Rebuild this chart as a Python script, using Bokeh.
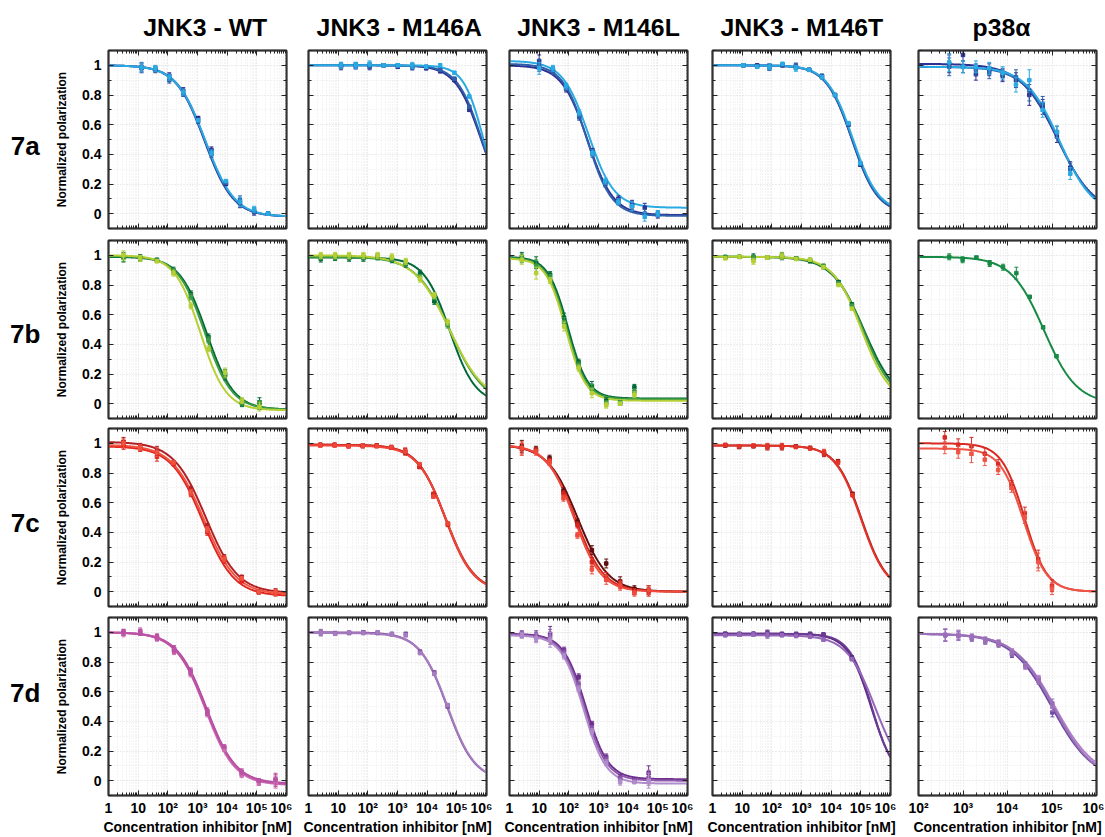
import math
import numpy as np
from bokeh.plotting import figure
from bokeh.layouts import column, row
from bokeh.models import Range1d, FixedTicker, LinearAxis, LogAxis, Label
from bokeh.embed import file_html
from bokeh.resources import INLINE

# ---------------- data ----------------
COLUMNS = ["JNK3 - WT", "JNK3 - M146A", "JNK3 - M146L", "JNK3 - M146T", "p38\u03b1"]
ROWS = ["7a", "7b", "7c", "7d"]
X_TICKS_JNK = [1.0, 10.0, 100.0, 1e3, 1e4, 1e5, 1e6]
X_LABELS_JNK = ["1", "10", "10\u00b2", "10\u00b3", "10\u2074", "10\u2075", "10\u2076"]
X_TICKS_P38 = [1e2, 1e3, 1e4, 1e5, 1e6]
X_LABELS_P38 = ["10\u00b2", "10\u00b3", "10\u2074", "10\u2075", "10\u2076"]
Y_TICKS = [0.0, 0.2, 0.4, 0.6, 0.8, 1.0]
Y_LABELS = ["0", "0.2", "0.4", "0.6", "0.8", "1"]

# concentrations [nM] per column, point values per series, error per point,
# fit parameters per series: (top, bottom, log10 IC50, Hill slope)
A_CONC = [
    [13, 38, 112, 330, 1050, 2950, 9100, 27000, 81000, 240000],
    [12.5, 39, 115, 340, 1020, 3150, 9300, 27500, 83000, 263000],
    [10, 29, 81, 224, 631, 1700, 4680, 13500, 36300, 100000],
    [11, 32, 83, 229, 646, 1820, 4900, 13500, 38000, 95500],
    [490, 1000, 1950, 3890, 7760, 15500, 30900, 61700, 129000, 257000],
]
A_Y = [
    [[0.98, 0.975, 0.93, 0.83, 0.645, 0.43, 0.2, 0.07, 0.01, 0.0],
     [0.99, 0.97, 0.9, 0.81, 0.62, 0.4, 0.21, 0.09, 0.02, 0.0],
     [0.985, 0.98, 0.92, 0.82, 0.63, 0.41, 0.22, 0.08, 0.03, 0.0]],
    [[0.99, 0.995, 0.99, 1.0, 0.99, 0.99, 0.98, 0.96, 0.9, 0.7],
     [1.0, 1.0, 1.0, 1.0, 1.0, 0.99, 0.99, 0.97, 0.91, 0.72],
     [1.0, 1.0, 1.01, 1.0, 1.0, 1.0, 0.99, 1.0, 0.95, 0.79]],
    [[1.03, 0.97, 0.84, 0.66, 0.42, 0.21, 0.1, 0.06, 0.04, -0.01],
     [1.0, 0.96, 0.85, 0.65, 0.4, 0.2, 0.08, 0.05, 0.0, 0.0],
     [0.98, 0.98, 0.86, 0.68, 0.41, 0.22, 0.08, 0.05, -0.02, 0.0]],
    [[1.0, 1.0, 0.99, 1.0, 0.995, 0.97, 0.92, 0.8, 0.6, 0.33],
     [1.0, 0.995, 0.985, 1.0, 0.99, 0.97, 0.93, 0.8, 0.6, 0.34],
     [1.0, 0.99, 0.99, 1.01, 0.98, 0.97, 0.92, 0.8, 0.61, 0.34]],
    [[1.01, 1.07, 0.94, 0.97, 0.93, 0.9, 0.8, 0.72, 0.52, 0.31],
     [0.99, 0.99, 0.97, 0.95, 0.94, 0.92, 0.83, 0.74, 0.55, 0.3],
     [1.02, 0.99, 0.99, 0.98, 0.95, 0.87, 0.9, 0.7, 0.55, 0.27]],
]
A_ERR = [
    [0.03, 0.02, 0.02, 0.02, 0.01, 0.02, 0.01, 0.03, 0.02, 0.01],
    [0.02, 0.02, 0.02, 0.01, 0.01, 0.02, 0.01, 0.01, 0.01, 0.01],
    [0.04, 0.02, 0.02, 0.02, 0.02, 0.02, 0.02, 0.03, 0.03, 0.02],
    [0.01, 0.01, 0.02, 0.01, 0.02, 0.01, 0.01, 0.01, 0.01, 0.01],
    [0.06, 0.04, 0.04, 0.04, 0.04, 0.05, 0.07, 0.05, 0.04, 0.04],
]
A_FIT = [
    [(1.0, -0.02, 3.24, 0.9), (1.0, -0.02, 3.26, 0.9), (1.0, -0.02, 3.27, 0.88)],
    [(1.0, 0.0, 5.82, 1.0), (1.0, 0.0, 5.84, 1.05), (1.0, 0.0, 5.9, 1.3)],
    [(1.0, -0.01, 2.63, 1.0), (1.01, -0.015, 2.62, 1.05), (1.03, 0.04, 2.66, 1.0)],
    [(1.0, 0.0, 4.7, 1.0), (1.0, 0.0, 4.71, 1.0), (1.0, 0.01, 4.73, 1.0)],
    [(1.01, 0.0, 5.12, 1.05), (0.99, 0.0, 5.15, 1.1), (0.99, -0.01, 5.17, 1.15)],
]

B_CONC = [
    [3.2, 11.7, 43, 155, 600, 2340, 8500, 31600, 123000],
    [2.6, 7.9, 23.4, 70.8, 214, 646, 1900, 5750, 17400, 49000],
    [2.6, 7.9, 23.4, 69, 214, 600, 1820, 5370, 16200],
    [2.7, 8.1, 24, 71, 219, 661, 1950, 5500, 17800, 50100],
    [490, 980, 2000, 3980, 7940, 15800, 31600, 63100, 126000],
]
B_Y = [
    [[0.985, 0.985, 0.97, 0.9, 0.74, 0.45, 0.19, 0.0, 0.01],
     [0.99, 0.98, 0.965, 0.89, 0.72, 0.43, 0.2, 0.01, -0.01],
     [1.0, 0.98, 0.96, 0.88, 0.66, 0.37, 0.21, 0.02, -0.02]],
    [[0.975, 0.985, 0.98, 0.98, 0.99, 0.97, 0.94, 0.88, 0.69, 0.54],
     [0.99, 0.99, 0.99, 0.99, 0.99, 0.98, 0.95, 0.85, 0.72, 0.53],
     [1.0, 1.0, 1.0, 1.0, 1.0, 0.99, 0.96, 0.84, 0.73, 0.55]],
    [[0.99, 0.95, 0.87, 0.58, 0.28, 0.12, 0.02, 0.0, 0.11],
     [0.98, 0.93, 0.85, 0.55, 0.26, 0.1, 0.0, 0.01, 0.08],
     [0.97, 0.88, 0.83, 0.52, 0.24, 0.07, -0.01, 0.0, 0.06]],
    [[0.985, 0.99, 0.99, 0.985, 0.99, 0.98, 0.96, 0.92, 0.82, 0.67],
     [0.99, 0.99, 0.98, 0.985, 1.0, 0.98, 0.97, 0.93, 0.81, 0.66],
     [0.98, 0.99, 0.96, 0.985, 0.995, 0.975, 0.97, 0.92, 0.8, 0.64]],
    [[0.99, 0.97, 0.985, 0.945, 0.92, 0.88, 0.72, 0.515, 0.32]],
]
B_ERR = [
    [0.03, 0.02, 0.01, 0.02, 0.02, 0.02, 0.03, 0.02, 0.03],
    [0.02, 0.02, 0.02, 0.02, 0.02, 0.02, 0.02, 0.02, 0.02, 0.02],
    [0.03, 0.04, 0.02, 0.03, 0.02, 0.03, 0.02, 0.01, 0.02],
    [0.01, 0.01, 0.02, 0.01, 0.02, 0.01, 0.01, 0.01, 0.01, 0.01],
    [0.02, 0.02, 0.01, 0.02, 0.02, 0.04, 0.01, 0.01, 0.01],
]
B_FIT = [
    [(0.99, -0.04, 3.31, 0.95), (0.995, -0.04, 3.25, 0.95), (1.0, -0.045, 3.1, 1.0)],
    [(0.985, 0.0, 4.76, 1.0), (0.99, -0.01, 4.78, 0.75), (1.0, 0.0, 4.75, 0.72)],
    [(0.99, 0.035, 1.97, 1.3), (0.985, 0.03, 1.93, 1.3), (0.98, 0.02, 1.9, 1.3)],
    [(0.99, 0.0, 5.11, 0.8), (0.99, 0.0, 5.08, 0.85), (0.99, 0.0, 5.03, 0.9)],
    [(0.99, 0.0, 4.82, 1.18)],
]

C_CONC = [
    [3.2, 11.7, 43, 155, 600, 2140, 7940, 30900, 117000, 427000],
    [2.5, 7.6, 22.4, 67.6, 200, 617, 1820, 5500, 16200, 50100],
    [2.6, 7.8, 22.4, 66, 195, 600, 1820, 5370, 16200, 49000],
    [2.7, 7.9, 24, 71, 219, 646, 1950, 5750, 17000, 52500],
    [390, 780, 1550, 3090, 6170, 12300, 24500, 49000, 100000],
]
C_Y = [
    [[1.01, 0.98, 0.95, 0.87, 0.69, 0.44, 0.23, 0.1, 0.0, 0.0],
     [0.99, 0.965, 0.91, 0.86, 0.66, 0.4, 0.21, 0.07, -0.005, -0.01],
     [1.0, 0.97, 0.94, 0.87, 0.67, 0.42, 0.22, 0.09, 0.0, -0.005]],
    [[0.99, 0.99, 0.985, 0.985, 0.985, 0.975, 0.945, 0.85, 0.65, 0.455],
     [0.99, 0.99, 0.98, 0.98, 0.985, 0.97, 0.94, 0.84, 0.66, 0.45],
     [0.985, 0.985, 0.98, 0.985, 0.98, 0.975, 0.95, 0.86, 0.64, 0.46]],
    [[0.98, 0.96, 0.9, 0.68, 0.47, 0.28, 0.19, 0.07, 0.02, 0.01],
     [0.96, 0.95, 0.88, 0.66, 0.45, 0.2, 0.1, 0.05, 0.0, 0.0],
     [0.97, 0.94, 0.87, 0.63, 0.38, 0.15, 0.08, 0.04, -0.01, 0.01]],
    [[0.985, 0.975, 0.98, 0.975, 0.975, 0.98, 0.97, 0.93, 0.88, 0.66],
     [0.99, 0.98, 0.985, 0.98, 0.98, 0.975, 0.965, 0.94, 0.87, 0.65]],
    [[1.04, 0.99, 0.98, 0.93, 0.86, 0.72, 0.53, 0.22, 0.04],
     [0.97, 0.94, 0.93, 0.89, 0.82, 0.7, 0.5, 0.2, 0.02]],
]
C_ERR = [
    [0.03, 0.02, 0.03, 0.01, 0.02, 0.02, 0.02, 0.01, 0.01, 0.02],
    [0.01, 0.01, 0.01, 0.01, 0.01, 0.01, 0.02, 0.01, 0.01, 0.01],
    [0.04, 0.02, 0.02, 0.02, 0.02, 0.03, 0.03, 0.03, 0.02, 0.03],
    [0.01, 0.01, 0.01, 0.02, 0.02, 0.01, 0.01, 0.02, 0.01, 0.01],
    [0.04, 0.04, 0.06, 0.04, 0.03, 0.03, 0.04, 0.06, 0.04],
]
C_FIT = [
    [(1.01, -0.01, 3.28, 0.8), (0.98, -0.03, 3.18, 0.82), (0.99, -0.02, 3.22, 0.8)],
    [(0.99, 0.0, 4.62, 0.9), (0.99, 0.0, 4.61, 0.92), (0.985, -0.005, 4.63, 0.9)],
    [(0.99, 0.0, 2.3, 0.85), (0.99, 0.0, 2.22, 0.9), (0.99, 0.0, 2.18, 0.95)],
    [(0.985, 0.0, 5.02, 1.0), (0.985, 0.0, 5.0, 1.0)],
    [(1.0, 0.0, 4.38, 1.7), (0.965, 0.0, 4.36, 1.65)],
]

D_CONC = [
    [3.2, 11.7, 43, 162, 590, 2140, 7940, 30900, 117000, 427000],
    [2.6, 7.9, 23.4, 70.8, 214, 646, 1900, 5750, 17400, 49000],
    [2.6, 7.9, 23.4, 69, 214, 600, 1820, 5370, 16200, 49000],
    [2.7, 8.1, 24, 71, 219, 661, 1950, 5500, 50100],
    [400, 790, 1580, 3160, 6310, 12600, 25100, 50100, 102000],
]
D_Y = [
    [[1.0, 1.0, 0.965, 0.89, 0.74, 0.47, 0.22, 0.05, 0.0, 0.0],
     [0.99, 1.01, 0.96, 0.87, 0.72, 0.45, 0.21, 0.04, -0.02, -0.01],
     [1.0, 1.0, 0.97, 0.88, 0.73, 0.46, 0.23, 0.06, 0.0, 0.01]],
    [[1.0, 0.995, 0.995, 1.0, 0.995, 0.99, 0.99, 0.87, 0.73, 0.5],
     [0.995, 0.99, 1.0, 0.995, 1.0, 0.985, 0.98, 0.86, 0.72, 0.51]],
    [[0.99, 0.98, 0.99, 0.88, 0.7, 0.38, 0.16, 0.02, 0.01, 0.05],
     [0.985, 0.97, 0.97, 0.86, 0.65, 0.35, 0.14, 0.01, 0.0, 0.02],
     [0.98, 0.96, 0.95, 0.84, 0.62, 0.33, 0.12, -0.01, -0.01, 0.0]],
    [[0.99, 0.99, 0.99, 0.99, 0.99, 0.985, 0.99, 0.985, 0.83],
     [0.99, 0.985, 0.99, 0.995, 0.985, 0.99, 0.985, 0.98, 0.82],
     [0.98, 0.985, 0.985, 0.98, 0.98, 0.975, 0.97, 0.95, 0.82]],
    [[0.98, 0.98, 0.96, 0.94, 0.92, 0.85, 0.78, 0.68, 0.46],
     [0.985, 0.985, 0.97, 0.95, 0.93, 0.87, 0.77, 0.69, 0.5],
     [0.98, 0.975, 0.965, 0.945, 0.925, 0.86, 0.78, 0.67, 0.52]],
]
D_ERR = [
    [0.02, 0.02, 0.02, 0.02, 0.02, 0.02, 0.01, 0.02, 0.01, 0.04],
    [0.02, 0.01, 0.01, 0.01, 0.01, 0.01, 0.01, 0.01, 0.01, 0.01],
    [0.02, 0.03, 0.05, 0.02, 0.02, 0.02, 0.02, 0.02, 0.01, 0.05],
    [0.01, 0.01, 0.01, 0.02, 0.01, 0.01, 0.01, 0.01, 0.01],
    [0.04, 0.03, 0.02, 0.02, 0.02, 0.02, 0.02, 0.02, 0.03],
]
D_FIT = [
    [(1.0, -0.02, 3.3, 0.87), (1.0, -0.03, 3.26, 0.87), (1.0, -0.025, 3.28, 0.85)],
    [(1.0, 0.0, 4.67, 0.93), (0.995, 0.0, 4.69, 0.93)],
    [(0.99, 0.01, 2.57, 1.15), (0.985, 0.0, 2.53, 1.15), (0.98, -0.02, 2.5, 1.15)],
    [(0.99, 0.0, 5.35, 1.1), (0.99, 0.0, 5.37, 1.15), (0.98, 0.0, 5.49, 0.9)],
    [(0.99, 0.0, 5.0, 0.95), (0.99, 0.01, 5.06, 0.95), (0.99, 0.0, 5.04, 0.97)],
]

ROW_DATA = [
    (A_CONC, A_Y, A_ERR, A_FIT),
    (B_CONC, B_Y, B_ERR, B_FIT),
    (C_CONC, C_Y, C_ERR, C_FIT),
    (D_CONC, D_Y, D_ERR, D_FIT),
]

# ---------------- styles / layout ----------------
BLUES = ["#2e3192", "#2f5faa", "#2aaae2"]
GREENS = ["#006837", "#3d9b45", "#b5cf34"]
PALETTE = [
    [BLUES, BLUES, BLUES, BLUES, BLUES],
    [GREENS, GREENS, GREENS, GREENS, ["#178a45"]],
    [["#b01f24", "#e0261f", "#f0533f"], ["#6e1414", "#d92a22", "#ee4639"],
     ["#5e0e0e", "#d7261e", "#ef4b3c"], ["#9e1b1f", "#e3352a"], ["#d62a22", "#ee5546"]],
    [["#b0449c", "#cc6cb1", "#bb52a4"], ["#8655a3", "#a57cbf"],
     ["#6e2f8d", "#8e5aab", "#b18ccc"], ["#56267f", "#6b3a93", "#9467b8"],
     ["#6e4ca5", "#b17fc8", "#9a70b8"]],
]
FONT = "Liberation Sans"
FRAME = 178
TOTAL_W = 1104
HEADER_H = 46
ROWLAB_W = 48
BL = [60, 16, 17, 19, 22]
BR = [6, 6, 6, 6, 8]
BT = [4, 6, 5, 6]
BB = [6, 5, 5, 41]
TITLE_CX = [204.7, 398.8, 598.0, 801.3, 1001.0]
TITLE_CY = 26.7
ROW_TOP = [46, 234, 423, 611]
ROWLAB_CY = [146.7, 333.3, 522.3, 706.7]
ROWLAB_CX = 24.7
AX_COLOR = "#333333"


def hill(logx, top, bottom, logic50, slope):
    return bottom + (top - bottom) / (1.0 + 10.0 ** ((logx - logic50) * slope))


def style_axis(ax, ticker):
    ax.ticker = ticker
    ax.axis_line_color = AX_COLOR
    ax.axis_line_width = 1.5
    ax.major_tick_in = 5
    ax.major_tick_out = 0
    ax.minor_tick_in = 3
    ax.minor_tick_out = 0
    ax.major_tick_line_color = "#222222"
    ax.minor_tick_line_color = "#222222"
    ax.major_label_text_font_size = "1px"
    ax.major_label_text_color = None
    ax.major_label_standoff = 0


def text_canvas(w, h):
    f = figure(width=w, height=h, x_range=Range1d(0, w), y_range=Range1d(h, 0),
               output_backend="svg", toolbar_location=None,
               x_axis_location=None, y_axis_location=None,
               min_border=0, min_border_left=0, min_border_right=0,
               min_border_top=0, min_border_bottom=0,
               background_fill_color="white", border_fill_color="white")
    f.outline_line_color = None
    f.grid.visible = False
    return f


header = text_canvas(TOTAL_W, HEADER_H)
for c in range(5):
    header.add_layout(Label(x=TITLE_CX[c], y=TITLE_CY, text=COLUMNS[c],
                            text_align="center", text_baseline="middle",
                            text_font=FONT, text_font_size="24.8px",
                            text_font_style="bold", text_color="black"))

rows_out = [header]
for r in range(4):
    conc_r, y_r, err_r, fit_r = ROW_DATA[r]
    row_h = BT[r] + FRAME + BB[r]
    lab = text_canvas(ROWLAB_W, row_h)
    lab.add_layout(Label(x=ROWLAB_CX, y=ROWLAB_CY[r] - ROW_TOP[r], text=ROWS[r],
                         text_align="center", text_baseline="middle",
                         text_font=FONT, text_font_size="26px",
                         text_font_style="bold", text_color="black"))
    figs = [lab]
    for c in range(5):
        p38 = (c == 4)
        lo, hi = (1e2, 1e6) if p38 else (1.0, 1e6)
        p = figure(frame_width=FRAME, frame_height=FRAME, x_axis_type="log",
                   x_range=Range1d(lo, hi), y_range=Range1d(-0.1, 1.1),
                   output_backend="svg", toolbar_location=None,
                   min_border_left=BL[c], min_border_right=BR[c],
                   min_border_top=BT[r], min_border_bottom=BB[r],
                   background_fill_color="white", border_fill_color="white")
        p.outline_line_color = AX_COLOR
        p.outline_line_width = 2

        klo = int(round(math.log10(lo)))
        xmaj = X_TICKS_P38 if p38 else X_TICKS_JNK
        xlab = X_LABELS_P38 if p38 else X_LABELS_JNK
        xmin = [m * 10.0 ** k for k in range(klo, 6) for m in range(2, 10)]
        xt = FixedTicker(ticks=xmaj, minor_ticks=xmin)
        yt = FixedTicker(ticks=Y_TICKS, minor_ticks=[-0.1, 0.1, 0.3, 0.5, 0.7, 0.9, 1.1])

        bottom_ax = p.below[0]
        left_ax = p.left[0]
        style_axis(bottom_ax, xt)
        style_axis(left_ax, yt)
        top_ax = LogAxis()
        style_axis(top_ax, xt)
        p.add_layout(top_ax, "above")
        right_ax = LinearAxis()
        style_axis(right_ax, yt)
        p.add_layout(right_ax, "right")

        if r == 3:
            ax = bottom_ax
            ax.major_label_text_font_size = "14px"
            ax.major_label_text_font = FONT
            ax.major_label_text_font_style = "bold"
            ax.major_label_text_color = "black"
            ax.major_label_standoff = 4
            ax.major_label_overrides = {t: s for t, s in zip(xmaj, xlab)}
            ax.axis_label = "Concentration inhibitor [nM]"
            ax.axis_label_text_font = FONT
            ax.axis_label_text_font_size = "14px"
            ax.axis_label_text_font_style = "bold"
            ax.axis_label_text_color = "black"
            ax.axis_label_standoff = 0
        if c == 0:
            ax = left_ax
            ax.major_label_text_font_size = "14px"
            ax.major_label_text_font = FONT
            ax.major_label_text_font_style = "bold"
            ax.major_label_text_color = "black"
            ax.major_label_standoff = 7
            ax.major_label_overrides = {t: s for t, s in zip(Y_TICKS, Y_LABELS)}
            ax.axis_label = "Normalized polarization"
            ax.axis_label_text_font = FONT
            ax.axis_label_text_font_size = "12px"
            ax.axis_label_text_font_style = "bold"
            ax.axis_label_text_color = "black"
            ax.axis_label_standoff = 10

        p.xgrid.ticker = xt
        p.ygrid.ticker = yt
        for g in (p.xgrid[0], p.ygrid[0]):
            g.grid_line_color = "#d9d9d9"
            g.grid_line_dash = "1 2"
            g.minor_grid_line_color = "#e9e9e9"
            g.minor_grid_line_dash = "1 2"

        cols = PALETTE[r][c]
        lx = np.linspace(math.log10(lo), 6.0, 300)
        for s, fit in enumerate(fit_r[c]):
            p.line(10.0 ** lx, hill(lx, *fit), line_color=cols[s], line_width=2)
        x = list(conc_r[c])
        e = np.array(err_r[c])
        for s, ys in enumerate(y_r[c]):
            yv = np.array(ys)
            col = cols[s]
            p.segment(x0=x, y0=list(yv - e), x1=x, y1=list(yv + e), line_color=col, line_width=1)
            p.scatter(x + x, list(yv - e) + list(yv + e), marker="dash", size=4,
                      line_color=col, line_width=1)
            p.scatter(x, list(yv), marker="square", size=3.5, fill_color=col, line_color=col)
        figs.append(p)
    rows_out.append(row(*figs))

layout = column(*rows_out)
open("out.html", "w").write(file_html(layout, INLINE))
